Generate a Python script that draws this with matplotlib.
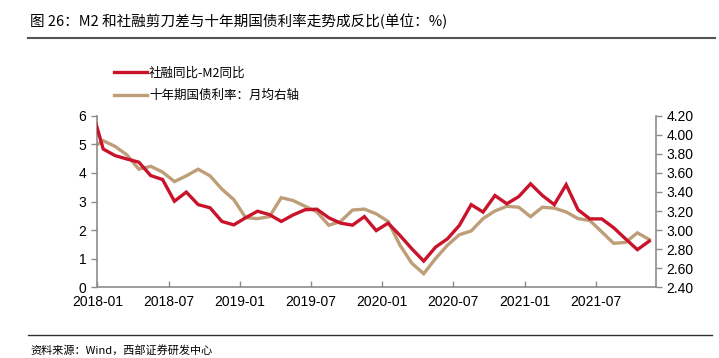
import numpy as np
import matplotlib
matplotlib.use("Agg")
import matplotlib.pyplot as plt
from matplotlib.ticker import FormatStrFormatter

plt.rcParams['font.family'] = ['Liberation Sans', 'Noto Sans CJK SC', 'DejaVu Sans']

# monthly data, one point per month starting 2017-12 (plotted mid-month)
tsf_m2 = [6.30, 4.84, 4.61, 4.49, 4.38, 3.91, 3.77, 3.01, 3.33, 2.89, 2.78, 2.30, 2.18,
          2.43, 2.66, 2.54, 2.30, 2.53, 2.71, 2.73, 2.43, 2.24, 2.17, 2.47, 1.98,
          2.24, 1.81, 1.34, 0.91, 1.40, 1.69, 2.16, 2.89, 2.63, 3.21, 2.92, 3.17,
          3.62, 3.21, 2.89, 3.59, 2.71, 2.39, 2.39, 2.08, 1.69, 1.31, 1.61]
yield_10y = [3.86, 3.94, 3.88, 3.79, 3.64, 3.67, 3.61, 3.51, 3.57, 3.64, 3.57, 3.43, 3.32,
             3.13, 3.12, 3.14, 3.34, 3.31, 3.25, 3.19, 3.05, 3.09, 3.21, 3.22, 3.17,
             3.09, 2.84, 2.65, 2.54, 2.70, 2.84, 2.95, 2.99, 3.12, 3.20, 3.25, 3.24,
             3.14, 3.24, 3.23, 3.19, 3.12, 3.10, 2.98, 2.86, 2.87, 2.97, 2.90]
xtick_labels = ['2018-01', '2018-07', '2019-01', '2019-07', '2020-01', '2020-07', '2021-01', '2021-07']

red = '#C8132B'
tan = '#BE9E78'
grey = '#8C8C8C'

x = np.arange(len(tsf_m2)) - 0.5   # month index relative to 2018-01

fig = plt.figure(figsize=(7.19, 3.58), dpi=100)
ax = fig.add_axes([0.1353, 0.1983, 0.7771, 0.4777])
ax2 = ax.twinx()

l1, = ax.plot(x, tsf_m2, color=red, lw=2.4, solid_joinstyle='miter', label='社融同比-M2同比', zorder=3)
l2, = ax2.plot(x, yield_10y, color=tan, lw=2.4, solid_joinstyle='miter', label='十年期国债利率：月均右轴')
ax.set_zorder(ax2.get_zorder() + 1)
ax.patch.set_visible(False)

ax.set_xlim(0, 47.07)
ax.set_ylim(0, 6)
ax2.set_ylim(2.4, 4.2)
ax.set_yticks(range(0, 7))
ax2.set_yticks(np.arange(2.4, 4.21, 0.2))
ax2.yaxis.set_major_formatter(FormatStrFormatter('%.2f'))
ax.set_xticks(range(0, 43, 6))
ax.set_xticklabels(xtick_labels)

for a in (ax, ax2):
    a.spines['top'].set_visible(False)
    for s in ('left', 'right', 'bottom'):
        a.spines[s].set_color(grey)
        a.spines[s].set_linewidth(1.2)
    a.tick_params(colors=grey, labelcolor='black', labelsize=10, length=4, width=1)
ax.spines['right'].set_visible(False)
ax2.spines['left'].set_visible(False)
ax2.spines['bottom'].set_visible(False)
ax.tick_params(axis='x', direction='in', pad=6)
ax.tick_params(axis='y', pad=4)

fig.legend(handles=[l1, l2], loc='upper left', bbox_to_anchor=(0.150, 0.832), frameon=False,
           prop={'family': ['Noto Sans CJK SC'], 'size': 9}, handlelength=2.6,
           handletextpad=0.2, labelspacing=0.8, borderpad=0)

fig.text(0.042, 0.940, '图 26：M2 和社融剪刀差与十年期国债利率走势成反比(单位：%)',
         fontsize=10.5, family=['Noto Sans CJK SC'], va='center', ha='left')
fig.add_artist(plt.Line2D([0.039, 0.995], [0.895, 0.895], color='#555555', lw=1.5))
fig.add_artist(plt.Line2D([0.039, 0.99], [0.064, 0.064], color='#333333', lw=1.0))
fig.text(0.042, 0.022, '资料来源：Wind，西部证券研发中心', fontsize=8,
         family=['Noto Sans CJK SC'], va='center', ha='left')

fig.savefig('out.png', dpi=100)
